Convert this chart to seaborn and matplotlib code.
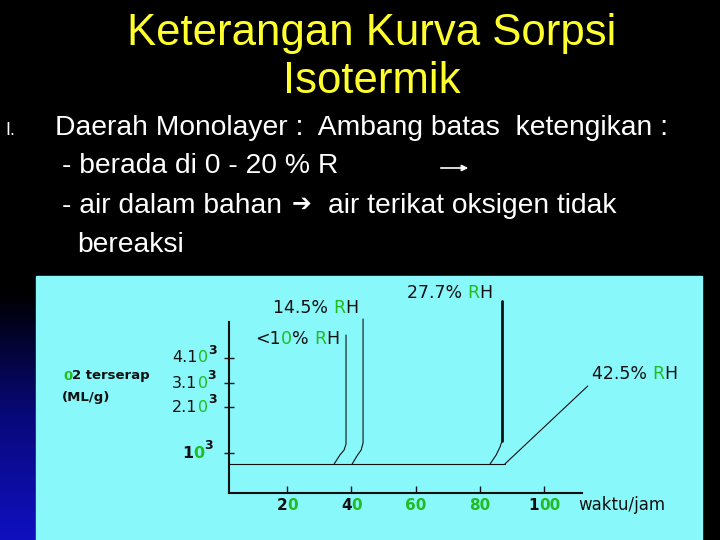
import numpy as np
import matplotlib
matplotlib.use('Agg')
import matplotlib.pyplot as plt
from matplotlib.colors import LinearSegmentedColormap
from matplotlib.patches import Rectangle
import seaborn as sns

sns.set_style('ticks')
plt.rcParams['font.family'] = ['DejaVu Sans']

INK = '#111111'
GREEN = '#22bb22'
CYAN = '#88f8fb'
SLIDE_FONT = ['Liberation Sans', 'DejaVu Sans']

# sorption curves (x = waktu/jam, y = O2 terserap in chart units)
base_x = [1.9, 87.7]
base_y = [0.725, 0.725]
rh10_x = [34.6, 36.4, 37.7, 38.3, 38.3]
rh10_y = [0.725, 0.95, 1.075, 1.225, 3.95]
rh145_x = [40.2, 41.7, 43.0, 43.6, 43.6]
rh145_y = [0.725, 0.925, 1.075, 1.25, 4.35]
rh277_x = [83.1, 85.0, 86.2, 86.8]
rh277_y = [0.725, 0.95, 1.15, 1.3]
rh277_top_x = [86.8, 86.8]
rh277_top_y = [1.3, 4.8]
rh425_x = [87.7, 113.5]
rh425_y = [0.725, 2.675]

# curve labels: left x, centre y, coloured pieces
label_x = [10.0, 15.6, 57.2, 114.8]
label_y = [3.85, 4.625, 5.0, 2.975]
label_parts = [
    [('<1', INK), ('0', GREEN), ('% ', INK), ('R', GREEN), ('H', INK)],
    [('14.5% ', INK), ('R', GREEN), ('H', INK)],
    [('27.7% ', INK), ('R', GREEN), ('H', INK)],
    [('42.5% ', INK), ('R', GREEN), ('H', INK)],
]

x_ticks = [20, 40, 60, 80, 100]
x_tick_parts = [
    [('2', INK), ('0', GREEN)],
    [('4', INK), ('0', GREEN)],
    [('60', GREEN)],
    [('80', GREEN)],
    [('1', INK), ('00', GREEN)],
]
y_ticks = [1.0, 2.15, 2.75, 3.375]
y_tick_parts = [
    [('1', INK), ('0', GREEN)],
    [('2.1', INK), ('0', GREEN)],
    [('3.1', INK), ('0', GREEN)],
    [('4.1', INK), ('0', GREEN)],
]
y_tick_left = [-0.133, -0.161, -0.161, -0.161]

title_lines = ['Keterangan Kurva Sorpsi', 'Isotermik']
body_lines = ['Daerah Monolayer :  Ambang batas  ketengikan :',
              '- berada di 0 - 20 % R',
              '- air dalam bahan',
              'bereaksi']


def rainbow(ax, x, y, parts, ha='left', transform=None, **kw):
    full = ''.join(s for s, _ in parts)
    anchor = ax.text(x, y, full, ha=ha, va='center', alpha=0,
                     transform=transform if transform is not None else ax.transData, **kw)
    prev, pos = anchor, (0, 0)
    for s, c in parts:
        prev = ax.annotate(s, xy=pos, xycoords=prev, va='bottom', ha='left',
                           color=c, **kw)
        pos = (1, 0)
    return prev


fig = plt.figure(figsize=(7.2, 5.4), dpi=100, facecolor='black')

# slide background in pixel units
slide = fig.add_axes([0, 0, 1, 1])
slide.set_xlim(0, 720)
slide.set_ylim(540, 0)
slide.axis('off')
slide.set_facecolor('black')
blue = LinearSegmentedColormap.from_list('b', ['#000000', '#08087a', '#1010c0'])
grad = np.linspace(0, 1, 100).reshape(-1, 1)
slide.imshow(grad, extent=[0, 36, 540, 290], cmap=blue, aspect='auto', zorder=0)
slide.add_patch(Rectangle((36, 276), 666, 264, color=CYAN, zorder=1))

for txt, yb in zip(title_lines, [45, 93]):
    slide.text(372, yb, txt, ha='center', va='baseline', color='#ffff2e',
               fontsize=31.5, family=SLIDE_FONT)

slide.text(5, 135, 'I.', color='white', fontsize=13, va='baseline', family=SLIDE_FONT)
for txt, xb, yb in zip(body_lines, [55, 62, 62, 77], [135, 173, 213, 252]):
    slide.text(xb, yb, txt, color='white', fontsize=20.3, va='baseline',
               family=SLIDE_FONT)
slide.text(292, 211, '\u2794', color='white', fontsize=17, va='baseline',
           family=['DejaVu Sans'])
slide.text(328, 213, 'air terikat oksigen tidak', color='white', fontsize=20.3,
           va='baseline', family=SLIDE_FONT)
slide.annotate('', xy=(471, 168), xytext=(438, 168),
               arrowprops=dict(arrowstyle='-|>', color='white', lw=1.2,
                               mutation_scale=9))

rainbow(slide, 63, 376, [('0', GREEN), ('2 terserap', INK)],
        fontsize=9.5, fontweight='bold')
slide.text(62, 398, '(ML/g)', color=INK, fontsize=9.5, fontweight='bold', va='center')

# chart
ax = fig.add_axes([229 / 720, 47 / 540, 353 / 720, 171 / 540])
ax.patch.set_alpha(0)
thin = dict(color=INK, lw=0.8, sort=False, estimator=None, ax=ax)
sns.lineplot(x=base_x, y=base_y, **thin)
sns.lineplot(x=rh10_x, y=rh10_y, **thin)
sns.lineplot(x=rh145_x, y=rh145_y, **thin)
sns.lineplot(x=rh277_x, y=rh277_y, **thin)
sns.lineplot(x=rh425_x, y=rh425_y, **thin)
sns.lineplot(x=rh277_top_x, y=rh277_top_y, color=INK, lw=2.0, sort=False,
             estimator=None, ax=ax)
for ln in ax.lines:
    ln.set_clip_on(False)

ax.set_xlim(1.9, 111.7)
ax.set_ylim(0, 4.275)
sns.despine(ax=ax)
for side in ['left', 'bottom']:
    ax.spines[side].set_linewidth(1.5)
    ax.spines[side].set_color(INK)
ax.set_xticks(x_ticks)
ax.set_yticks(y_ticks)
ax.set_xticklabels([])
ax.set_yticklabels([])
ax.tick_params(axis='x', direction='in', length=5, width=1, color=INK)
ax.tick_params(axis='y', direction='inout', length=7, width=1, color=INK)

for xt, parts in zip(x_ticks, x_tick_parts):
    rainbow(ax, xt, -0.3, parts, ha='center', fontsize=11, fontweight='bold')
ax.text(110.4, -0.3, 'waktu/jam', color=INK, fontsize=12, va='center', ha='left')

ytrans = ax.get_yaxis_transform()
for yt, xl, parts in zip(y_ticks, y_tick_left, y_tick_parts):
    bold = 'bold' if yt == y_ticks[0] else 'normal'
    last = rainbow(ax, xl, yt, parts, transform=ytrans, fontsize=11.5, fontweight=bold)
    ax.annotate('3', xy=(1, 0.55), xycoords=last, va='bottom', ha='left',
                color=INK, fontsize=9, fontweight='bold')

for lx, ly, parts in zip(label_x, label_y, label_parts):
    rainbow(ax, lx, ly, parts, fontsize=12.5)

fig.savefig('out.png', dpi=100, facecolor='black')
